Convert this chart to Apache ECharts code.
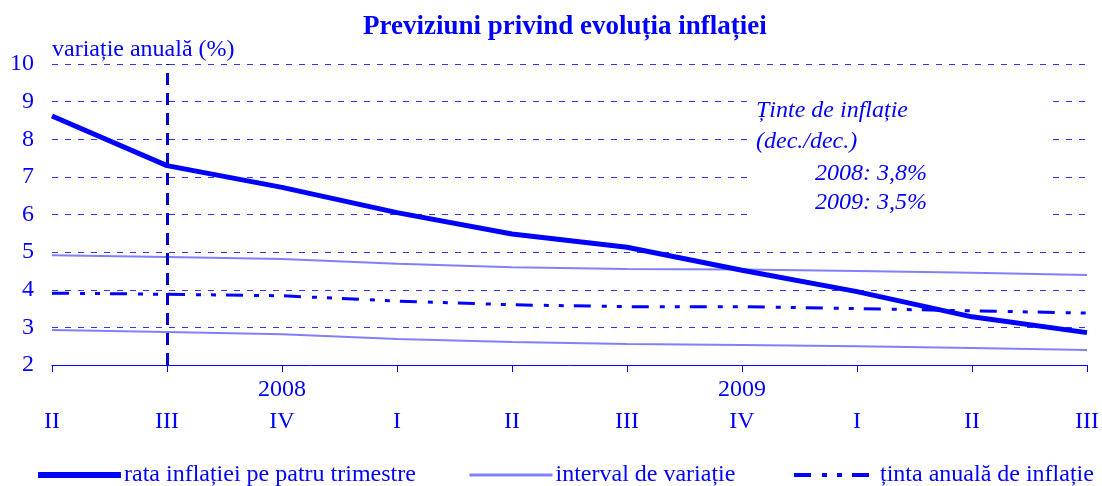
<!DOCTYPE html>
<html>
<head>
<meta charset="utf-8">
<script src="https://cdn.jsdelivr.net/npm/echarts@6/dist/echarts.min.js"></script>
<style>
  html, body { margin: 0; padding: 0; background: #fff; }
  #chart { width: 1102px; height: 486px; }
</style>
</head>
<body>
<div id="chart"></div>
<script>
const quarters = ['II', 'III', 'IV', 'I', 'II', 'III', 'IV', 'I', 'II', 'III']
const yearLabels = ['', '', '2008', '', '', '', '2009', '', '', '']
const inflatie = [8.62, 7.3, 6.72, 6.05, 5.48, 5.13, 4.52, 3.95, 3.28, 2.86]
const intervalSus = [4.92, 4.87, 4.82, 4.69, 4.6, 4.55, 4.54, 4.5, 4.45, 4.39]
const intervalJos = [2.93, 2.88, 2.82, 2.69, 2.61, 2.56, 2.53, 2.5, 2.45, 2.4]
const tinta = [3.91, 3.88, 3.84, 3.7, 3.6, 3.55, 3.55, 3.5, 3.44, 3.38]

const BLUE = '#0000ff'
const LIGHT = '#8080ff'
const FONT = '"Liberation Serif", "Times New Roman", serif'

const chart = echarts.init(document.getElementById('chart'))

// one legend per item so each sits where the original puts it
const legendBase = {
  top: 458, itemWidth: 83, itemHeight: 14, itemGap: 0,
  itemStyle: { opacity: 0 },
  textStyle: { fontFamily: FONT, fontSize: 24, color: BLUE, padding: [0, 0, 0, -2] },
  selectedMode: false
}

chart.setOption({
  animation: false,
  textStyle: { fontFamily: FONT },
  title: {
    text: 'Previziuni privind evoluția inflației',
    left: 358, top: 9,
    textStyle: { fontFamily: FONT, fontSize: 27, fontWeight: 'bold', color: BLUE }
  },
  legend: [
    Object.assign({}, legendBase, { left: 30, lineStyle: { width: 6 }, data: ['rata inflației pe patru trimestre'] }),
    Object.assign({}, legendBase, { left: 463, lineStyle: { width: 3 }, data: ['interval de variație'] }),
    Object.assign({}, legendBase, { left: 787, lineStyle: { width: 4 }, data: ['ținta anuală de inflație'] })
  ],
  grid: { left: 52, right: 14, top: 64, bottom: 121 },
  xAxis: [{
    type: 'category', data: quarters, boundaryGap: false,
    axisLine: { lineStyle: { color: BLUE, width: 1 } },
    axisTick: { show: true, length: 7, lineStyle: { color: BLUE } },
    axisLabel: { interval: 0, margin: 45, fontSize: 24, color: BLUE, fontFamily: FONT },
    splitLine: { show: false }
  }, {
    type: 'category', data: yearLabels, boundaryGap: false, position: 'bottom',
    axisLine: { show: false }, axisTick: { show: false },
    axisLabel: { interval: 0, margin: 13, fontSize: 24, color: BLUE, fontFamily: FONT }
  }],
  yAxis: {
    type: 'value', min: 2, max: 10, interval: 1,
    name: 'variație anuală (%)', nameLocation: 'end', nameGap: 2,
    nameTextStyle: { align: 'left', fontSize: 24, color: BLUE, fontFamily: FONT },
    axisLine: { show: false }, axisTick: { show: false },
    axisLabel: { margin: 18, fontSize: 24, color: BLUE, fontFamily: FONT },
    splitLine: { lineStyle: { color: '#3333ff', type: [6, 7], width: 1 } }
  },
  graphic: [{
    type: 'rect', left: 749, top: 92, z: 10,
    shape: { width: 302, height: 128 },
    style: { fill: '#fff' }
  }, {
    type: 'text', left: 756, top: 95, z: 11,
    style: {
      text: 'Ținte de inflație\n(dec./dec.)',
      fontFamily: FONT, fontSize: 24, fontStyle: 'italic', fill: BLUE, lineHeight: 31
    }
  }, {
    type: 'text', left: 815, top: 159, z: 11,
    style: {
      text: '2008: 3,8%\n2009: 3,5%',
      fontFamily: FONT, fontSize: 24, fontStyle: 'italic', fill: BLUE, lineHeight: 29
    }
  }],
  series: [{
    name: 'rata inflației pe patru trimestre', type: 'line', data: inflatie,
    symbol: 'none', z: 5,
    lineStyle: { color: BLUE, width: 5 }, itemStyle: { color: BLUE },
    markLine: {
      silent: true, symbol: 'none', label: { show: false },
      lineStyle: { color: '#0000cc', type: [12, 8], width: 3 },
      data: [{ xAxis: 1 }]
    }
  }, {
    name: 'interval de variație', type: 'line', data: intervalSus,
    symbol: 'none', lineStyle: { color: LIGHT, width: 2 }, itemStyle: { color: LIGHT }
  }, {
    name: 'interval de variație', type: 'line', data: intervalJos,
    symbol: 'none', lineStyle: { color: LIGHT, width: 2 }, itemStyle: { color: LIGHT }
  }, {
    name: 'ținta anuală de inflație', type: 'line', data: tinta,
    symbol: 'none',
    lineStyle: { color: BLUE, width: 3, type: [17, 11, 5, 10, 5, 10] }, itemStyle: { color: BLUE }
  }]
})

window.addEventListener('resize', () => chart.resize())
</script>
</body>
</html>
